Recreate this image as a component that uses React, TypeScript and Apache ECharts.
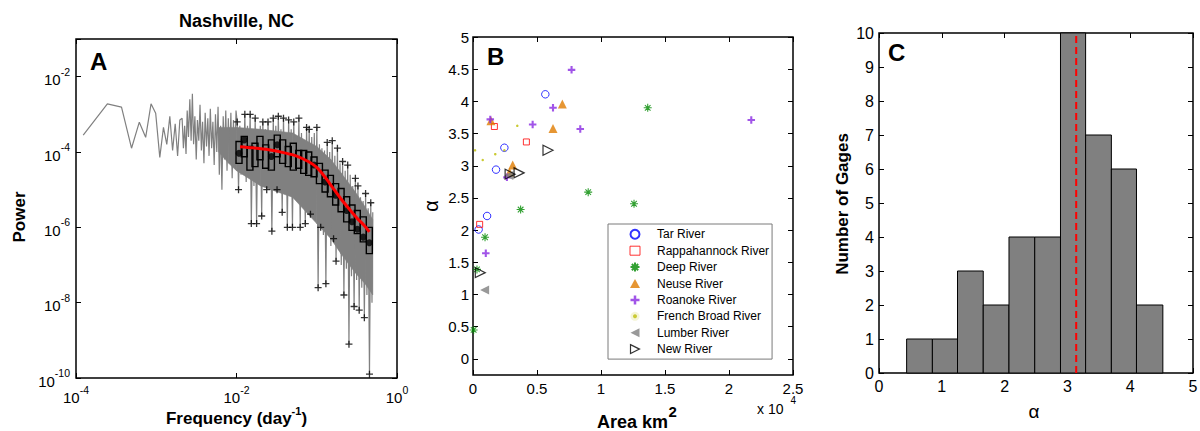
import React, { useEffect, useRef } from 'react';
import * as echarts from 'echarts';

const FONT = '"Liberation Sans", Arial, Helvetica, sans-serif';

// ---------------- Panel A: periodogram, Nashville, NC ----------------
const periodFreq = [
  1.23e-4, 2.46e-4, 3.69e-4, 4.92e-4, 6.15e-4, 7.38e-4, 8.61e-4, 9.84e-4, 1.107e-3, 1.23e-3,
  1.353e-3, 1.476e-3, 1.599e-3, 1.722e-3, 1.845e-3, 1.968e-3,
  0.0021, 0.00218, 0.00226, 0.00235, 0.00243, 0.00252, 0.00262, 0.00272, 0.00282, 0.00292,
  0.00303, 0.00315, 0.00326, 0.00339, 0.00351, 0.00365, 0.00378, 0.00393, 0.00407, 0.00423,
  0.00439, 0.00455, 0.00472, 0.0049, 0.00508, 0.00527, 0.00547, 0.00568, 0.00589, 0.00611,
  0.00634, 0.00658, 0.00683, 0.00708, 0.00735, 0.00762, 0.00791, 0.00821, 0.00851, 0.00883,
  0.00916, 0.00951, 0.00986,
  0.0102, 0.0106, 0.011, 0.0114, 0.0118, 0.0123, 0.0127, 0.0132, 0.0137, 0.0142,
  0.0148, 0.0153, 0.0159, 0.0165, 0.0171, 0.0178, 0.0184, 0.0191, 0.0198, 0.0206,
  0.0213, 0.0221, 0.023, 0.0238, 0.0247, 0.0257, 0.0266, 0.0276, 0.0287, 0.0297,
  0.0309, 0.032, 0.0332, 0.0345, 0.0358, 0.0371, 0.0385, 0.04, 0.0415, 0.043,
  0.0446, 0.0463, 0.048, 0.0498, 0.0517, 0.0537, 0.0557, 0.0578, 0.0599, 0.0622,
  0.0645, 0.0669, 0.0694, 0.072, 0.0747, 0.0775, 0.0805, 0.0835, 0.0866, 0.0898,
  0.0932, 0.0967, 0.1003, 0.104, 0.108, 0.112, 0.116, 0.121, 0.125, 0.13,
  0.135, 0.14, 0.145, 0.15, 0.156, 0.162, 0.168, 0.174, 0.181, 0.188,
  0.195, 0.202, 0.21, 0.218, 0.226, 0.234, 0.243, 0.252, 0.261, 0.271,
  0.281, 0.292, 0.303, 0.314, 0.326, 0.338, 0.351, 0.364, 0.378, 0.392,
  0.406, 0.422, 0.437, 0.454, 0.471, 0.488, 0.499,
];
const periodPower = [
  2.8e-4, 1.9e-3, 1.55e-3, 1.26e-4, 6.2e-4, 2.45e-4, 1.9e-3, 1.07e-3, 7.2e-5, 4.5e-4,
  1.6e-4, 8.9e-4, 1.1e-4, 5.6e-4, 7.9e-5, 7.1e-4,
  7.9e-4, 1.26e-4, 5.0e-4, 8.9e-5, 1.26e-3, 2.5e-4, 2.5e-3, 2.0e-4, 3.5e-3, 1.6e-4,
  8.9e-4, 6.3e-5, 7.1e-4, 2.0e-4, 1.8e-3, 1.1e-4, 6.3e-4, 5.0e-5, 1.1e-3, 1.4e-4,
  7.9e-4, 7.9e-5, 1.4e-3, 1.26e-4, 6.3e-4, 4.5e-5, 1.0e-3, 1.0e-4, 1.6e-3, 2.5e-5,
  5.0e-4, 1.0e-5, 8.9e-4, 6.3e-5, 1.26e-3, 3.2e-5, 7.9e-4, 5.0e-5, 1.1e-3, 2.0e-5,
  7.1e-4, 4.0e-5, 1.26e-3,
  6.3e-4, 1.0e-5, 5.0e-4, 2.5e-5, 3.2e-4, 4.0e-5, 1.0e-3, 1.6e-5, 5.0e-4, 3.2e-5,
  1.0e-3, 1.26e-6, 4.0e-4, 1.26e-5, 7.9e-4, 1.26e-6, 3.2e-4, 2.0e-5, 5.0e-4, 2.0e-6,
  6.3e-4, 1.26e-5, 4.0e-4, 1.0e-5, 6.3e-4, 2.5e-5, 3.2e-4, 7.9e-7, 7.9e-4, 1.6e-5,
  5.0e-4, 1.0e-5, 8.9e-4, 2.0e-5, 4.0e-4, 2.5e-6, 7.9e-4, 1.26e-5, 3.2e-4, 1.0e-6,
  7.1e-4, 1.6e-5, 4.0e-4, 1.0e-6, 6.3e-4, 1.0e-5, 2.5e-4, 6.3e-6, 7.9e-4, 1.0e-6,
  3.2e-4, 7.9e-6, 2.0e-4, 1.26e-6, 4.5e-4, 5.0e-6, 4.0e-4, 2.24e-6, 2.5e-4, 4.0e-6,
  3.2e-4, 1.6e-6, 4.5e-4, 2.5e-8, 1.6e-4, 1.0e-6, 1.26e-4, 6.3e-7, 1.1e-4, 3.2e-8,
  1.8e-4, 7.9e-7, 1.0e-4, 3.2e-7, 2.0e-4, 5.0e-7, 7.9e-5, 1.26e-7, 1.26e-4, 2.5e-7,
  5.0e-5, 1.0e-7, 5.6e-5, 1.6e-8, 3.2e-5, 7.9e-8, 4.5e-5, 7.9e-10, 2.5e-5, 5.0e-8,
  1.26e-5, 7.9e-9, 2.0e-5, 4.0e-8, 1.26e-5, 6.3e-9, 6.3e-6, 2.5e-8, 5.0e-6, 4.0e-9,
  7.9e-6, 1.6e-8, 3.2e-6, 1.26e-10, 4.5e-6, 1.0e-8, 2.5e-6,
];
// dense core of the periodogram (where the gray lines overlap into a solid band)
const bandFreq = [0.006, 0.008, 0.01, 0.02, 0.05, 0.1, 0.15, 0.2, 0.3, 0.4, 0.499];
const bandUpper = [4.5e-4, 4.5e-4, 4.5e-4, 4.0e-4, 3.2e-4, 1.4e-4, 6.3e-5, 2.8e-5, 8.9e-6, 3.5e-6, 1.6e-6];
const bandLower = [1.0e-4, 5.0e-5, 3.2e-5, 1.26e-5, 6.3e-6, 1.26e-6, 5.0e-7, 2.0e-7, 6.3e-8, 3.2e-8, 1.6e-8];

const boxFreq = [
  0.01075, 0.0125, 0.0147, 0.017, 0.0196, 0.0231, 0.0272, 0.0322, 0.0376, 0.0442,
  0.051, 0.0596, 0.0688, 0.0794, 0.0925, 0.108, 0.127, 0.148, 0.172, 0.201,
  0.236, 0.275, 0.32, 0.38, 0.452,
];
const boxUpper = [
  1.9e-4, 2.6e-4, 1.4e-4, 1.7e-4, 2.6e-4, 1.55e-4, 2.1e-4, 2.8e-4, 2.1e-4, 1.4e-4,
  1.7e-4, 1.1e-4, 1.1e-4, 1.0e-4, 7.4e-5, 5.0e-5, 3.3e-5, 2.4e-5, 1.45e-5, 1.07e-5,
  6.5e-6, 3.9e-6, 2.8e-6, 1.9e-6, 1.0e-6,
];
const boxLower = [
  5.0e-5, 7.5e-5, 3.3e-5, 4.1e-5, 6.2e-5, 3.7e-5, 3.3e-5, 7.5e-5, 5.0e-5, 4.1e-5,
  3.3e-5, 3.7e-5, 2.7e-5, 2.4e-5, 2.2e-5, 1.45e-5, 8.7e-6, 6.5e-6, 3.9e-6, 2.6e-6,
  1.4e-6, 8.3e-7, 6.8e-7, 4.1e-7, 2.0e-7,
];
const medianFreq = [0.01075, 0.0125, 0.0272, 0.0322, 0.0925, 0.127, 0.172, 0.236, 0.275, 0.32, 0.38, 0.452];
const medianPower = [9.3e-5, 2.1e-4, 7.6e-5, 1.55e-4, 4.5e-5, 1.6e-5, 7.1e-6, 2.8e-6, 1.4e-6, 8.9e-7, 5.5e-7, 3.9e-7];
const upperOutFreq = [
  0.0102, 0.0127, 0.0148, 0.0171, 0.0213, 0.0247, 0.0287, 0.0332, 0.0385, 0.0446, 0.0517, 0.0599,
  0.0747, 0.0805, 0.1003, 0.135, 0.156, 0.181, 0.21, 0.243, 0.303, 0.326, 0.406, 0.471,
];
const upperOutPower = [
  6.3e-4, 1.0e-3, 1.0e-3, 7.9e-4, 6.3e-4, 6.3e-4, 7.9e-4, 8.9e-4, 7.9e-4, 7.1e-4, 6.3e-4, 7.9e-4,
  4.5e-4, 4.0e-4, 4.5e-4, 1.8e-4, 2.0e-4, 1.26e-4, 5.6e-5, 4.5e-5, 2.0e-5, 1.26e-5, 7.9e-6, 4.5e-6,
];
const lowerOutFreq = [
  0.0106, 0.0153, 0.0178, 0.0206, 0.0238, 0.0276, 0.032, 0.0371, 0.043, 0.0498, 0.0622, 0.072,
  0.0835, 0.104, 0.112, 0.13, 0.162, 0.174, 0.218, 0.252, 0.292, 0.338, 0.392, 0.454,
];
const lowerOutPower = [
  1.0e-5, 1.26e-6, 1.26e-6, 2.0e-6, 1.0e-5, 7.9e-7, 1.0e-5, 2.5e-6, 1.0e-6, 1.0e-6, 1.0e-6, 1.26e-6,
  2.24e-6, 2.5e-8, 1.0e-6, 3.2e-8, 5.0e-7, 1.26e-7, 1.6e-8, 7.9e-10, 7.9e-9, 6.3e-9, 4.0e-9, 1.26e-10,
];
const fitFreq = [0.01107, 0.01585, 0.02512, 0.03981, 0.05623, 0.07943, 0.1, 0.1259, 0.1585, 0.1995, 0.2512, 0.3162, 0.3981, 0.4519];
const fitPower = [1.38e-4, 1.29e-4, 1.15e-4, 9.5e-5, 7.8e-5, 5.5e-5, 3.9e-5, 2.2e-5, 1.12e-5, 5.75e-6, 3.16e-6, 1.78e-6, 1.07e-6, 7.6e-7];

// ---------------- Panel B: alpha vs drainage area (km^2) ----------------
const tarRiver = [[5650, 4.11], [2450, 3.28], [1800, 2.94], [1100, 2.22], [440, 2.01]];
const rappahannockRiver = [[1670, 3.61], [4170, 3.37], [520, 2.09]];
const deepRiver = [[13650, 3.9], [9000, 2.59], [12580, 2.41], [3720, 2.32], [940, 1.89], [310, 1.39], [50, 0.45]];
const neuseRiver = [[6980, 3.96], [6250, 3.58], [1400, 3.7], [3100, 3.01], [2850, 2.9]];
const roanokeRiver = [[7700, 4.49], [6250, 3.9], [1350, 3.72], [4660, 3.64], [8380, 3.57], [21740, 3.71], [2650, 2.82], [1000, 1.64]];
const frenchBroadRiver = [[160, 3.24], [760, 3.09], [1740, 3.18], [2450, 3.24], [3460, 3.62]];
const lumberRiver = [[910, 1.07], [2800, 2.85]];
const newRiver = [[5860, 3.24], [3600, 2.89], [2900, 2.87], [570, 1.34]];
const alphaTicks = [0, 0.5, 1, 1.5, 2, 2.5, 3, 3.5, 4, 4.5, 5];

// ---------------- Panel C: histogram of alpha ----------------
const binEdges = [0.44, 0.85, 1.25, 1.66, 2.07, 2.48, 2.89, 3.29, 3.7, 4.1, 4.52];
const binCounts = [1, 1, 3, 2, 4, 4, 10, 7, 6, 2];
const meanAlpha = 3.14;

const pair = (xs: number[], ys: number[]) => xs.map((x, i) => [x, ys[i]]);

const supRich = (base: number, sup: number) => ({
  b: { fontFamily: FONT, fontSize: base, color: '#000', verticalAlign: 'bottom', lineHeight: 21 },
  s: { fontFamily: FONT, fontSize: sup, color: '#000', verticalAlign: 'top', lineHeight: 10 },
});

const tick = { show: true, inside: true, length: 5, lineStyle: { color: '#000', width: 1 } };
const noLine = { show: false, onZero: false };
const noSplit = { show: false };

function logX(pos: 'bottom' | 'top') {
  return {
    gridIndex: 0, type: 'log', logBase: 10, min: 1e-4, max: 1, interval: 2, position: pos,
    axisLine: noLine, splitLine: noSplit, minorTick: { show: false }, axisTick: tick,
    axisLabel: pos === 'bottom'
      ? { show: true, margin: 6, formatter: (v: number) => `{b|10}{s|${Math.round(Math.log10(v))}}`, rich: supRich(15, 10.5) }
      : { show: false },
  };
}
function logY(pos: 'left' | 'right') {
  return {
    gridIndex: 0, type: 'log', logBase: 10, min: 1e-10, max: 1e-1, interval: 2, position: pos,
    axisLine: noLine, splitLine: noSplit, minorTick: { show: false }, axisTick: tick,
    axisLabel: pos === 'left'
      ? {
          show: true, margin: 6,
          formatter: (v: number) => {
            const e = Math.round(Math.log10(v));
            return e % 2 === 0 ? `{b|10}{s|${e}}` : '';
          },
          rich: supRich(15, 10.5),
        }
      : { show: false },
  };
}

const gridBase = { show: true, borderColor: '#000', borderWidth: 1.5, backgroundColor: 'transparent', containLabel: false, outerBoundsMode: 'none' };

const asteriskPath = 'path://M5,0V10M0,5H10M1.5,1.5L8.5,8.5M1.5,8.5L8.5,1.5';
const plusFilledPath = 'path://M3.6,0H6.4V3.6H10V6.4H6.4V10H3.6V6.4H0V3.6H3.6Z';
const outlierPath = 'path://M5,0V10M0,5H10';
const leftTriPath = 'path://M0,5L10,0L10,10Z';
const rightTriPath = 'path://M0,0L10,5L0,10Z';

function makeOption() {
  const scatterB = (name: string, data: number[][], symbol: string, size: number, itemStyle: any, rotate = 0) => ({
    name, type: 'scatter', xAxisIndex: 2, yAxisIndex: 2, data, symbol, symbolSize: size, symbolRotate: rotate,
    symbolKeepAspect: true, itemStyle, silent: true, z: 4,
  });
  const txt = (text: string, x: number, y: number, fontSize: number, extra: any = {}) => ({
    type: 'text', x, y, rotation: extra.rotation || 0,
    style: {
      text, fontFamily: FONT, fontSize, fontWeight: extra.bold ? 'bold' : 'normal', fill: '#000',
      align: extra.align || 'center', verticalAlign: 'middle',
    },
  });

  return {
    animation: false,
    backgroundColor: '#fff',
    textStyle: { fontFamily: FONT, color: '#000' },
    grid: [
      { ...gridBase, left: 76, top: 39, width: 321, height: 339 },
      { ...gridBase, left: 473, top: 37, width: 320, height: 338 },
      { ...gridBase, left: 879, top: 33, width: 314, height: 340 },
    ],
    xAxis: [
      logX('bottom'),
      logX('top'),
      {
        gridIndex: 1, type: 'value', min: 0, max: 25000, interval: 5000, position: 'bottom',
        axisLine: noLine, splitLine: noSplit, axisTick: tick,
        axisLabel: { margin: 6, fontSize: 15, color: '#000', fontFamily: FONT, formatter: (v: number) => String(v / 10000) },
      },
      { gridIndex: 1, type: 'value', min: 0, max: 25000, interval: 5000, position: 'top', axisLine: noLine, splitLine: noSplit, axisTick: tick, axisLabel: { show: false } },
      {
        gridIndex: 2, type: 'value', min: 0, max: 5, interval: 1, position: 'bottom',
        axisLine: noLine, splitLine: noSplit, axisTick: tick,
        axisLabel: { margin: 5, fontSize: 16, color: '#000', fontFamily: FONT },
      },
      { gridIndex: 2, type: 'value', min: 0, max: 5, interval: 1, position: 'top', axisLine: noLine, splitLine: noSplit, axisTick: tick, axisLabel: { show: false } },
    ],
    yAxis: [
      logY('left'),
      logY('right'),
      {
        gridIndex: 1, type: 'value', min: -0.25, max: 5, position: 'left',
        axisLine: noLine, splitLine: noSplit, axisTick: { ...tick, customValues: alphaTicks },
        axisLabel: { customValues: alphaTicks, margin: 4, fontSize: 15, color: '#000', fontFamily: FONT, formatter: (v: number) => String(v) },
      },
      {
        gridIndex: 1, type: 'value', min: -0.25, max: 5, position: 'right',
        axisLine: noLine, splitLine: noSplit, axisTick: { ...tick, customValues: alphaTicks }, axisLabel: { show: false },
      },
      {
        gridIndex: 2, type: 'value', min: 0, max: 10, interval: 1, position: 'left',
        axisLine: noLine, splitLine: noSplit, axisTick: tick,
        axisLabel: { margin: 5, fontSize: 16, color: '#000', fontFamily: FONT },
      },
      { gridIndex: 2, type: 'value', min: 0, max: 10, interval: 1, position: 'right', axisLine: noLine, splitLine: noSplit, axisTick: tick, axisLabel: { show: false } },
    ],
    legend: {
      show: true, orient: 'vertical', left: 608, top: 224,
      padding: [3.3, 3, 3, 20], itemWidth: 10, itemHeight: 9, itemGap: 2.4,
      symbolKeepAspect: true,
      backgroundColor: '#fff', borderColor: '#7a7a7a', borderWidth: 1, borderRadius: 0,
      selectedMode: false,
      textStyle: { fontFamily: FONT, fontSize: 12, color: '#000', lineHeight: 14, padding: [0, 0, 0, 12] },
      data: [
        'Tar River',
        { name: 'Rappahannock River', icon: 'rect', itemStyle: { color: 'transparent', borderColor: '#ff0000', borderWidth: 1 } },
        'Deep River',
        { name: 'Neuse River', icon: 'triangle' },
        'Roanoke River',
        { name: 'French Broad River', icon: 'circle', itemStyle: { color: '#bdbd00', borderColor: '#fff', borderWidth: 5 } },
        { name: 'Lumber River', icon: leftTriPath, itemStyle: { color: '#808080' } },
        { name: 'New River', icon: rightTriPath, itemStyle: { color: 'transparent', borderColor: '#000', borderWidth: 1.2 } },
      ],
    },
    series: [
      // ---- Panel A
      {
        name: 'Periodogram core', type: 'custom', xAxisIndex: 0, yAxisIndex: 0,
        data: bandFreq.slice(0, -1).map((f, i) => [f, bandLower[i], bandUpper[i], bandFreq[i + 1], bandLower[i + 1], bandUpper[i + 1]]),
        encode: { x: [0, 3], y: [1, 2, 4, 5] }, silent: true, z: 1,
        renderItem: (_p: any, api: any) => {
          const a = api.coord([api.value(0), api.value(2)]);
          const b = api.coord([api.value(3), api.value(5)]);
          const c = api.coord([api.value(3), api.value(4)]);
          const d = api.coord([api.value(0), api.value(1)]);
          return {
            type: 'polygon',
            shape: { points: [a, b, c, d] },
            style: { fill: '#808080', stroke: '#808080', lineWidth: 0.6 },
          };
        },
      },
      {
        name: 'Periodogram', type: 'line', xAxisIndex: 0, yAxisIndex: 0,
        data: pair(periodFreq, periodPower), showSymbol: false, symbol: 'none',
        lineStyle: { color: '#808080', width: 1.2 }, silent: true, z: 2,
      },
      {
        name: 'Boxes', type: 'custom', xAxisIndex: 0, yAxisIndex: 0,
        data: boxFreq.map((f, i) => [f, boxLower[i], boxUpper[i]]),
        encode: { x: 0, y: [1, 2] }, silent: true, z: 3,
        renderItem: (_p: any, api: any) => {
          const top = api.coord([api.value(0), api.value(2)]);
          const bot = api.coord([api.value(0), api.value(1)]);
          return {
            type: 'rect',
            shape: { x: top[0] - 3, y: top[1], width: 6, height: bot[1] - top[1] },
            style: { fill: 'none', stroke: '#000', lineWidth: 1.4 },
          };
        },
      },
      {
        name: 'Upper outliers', type: 'scatter', xAxisIndex: 0, yAxisIndex: 0,
        data: pair(upperOutFreq, upperOutPower), symbol: outlierPath, symbolSize: 7,
        itemStyle: { color: 'transparent', borderColor: '#000', borderWidth: 1.3 }, silent: true, z: 4,
      },
      {
        name: 'Lower outliers', type: 'scatter', xAxisIndex: 0, yAxisIndex: 0,
        data: pair(lowerOutFreq, lowerOutPower), symbol: outlierPath, symbolSize: 7,
        itemStyle: { color: 'transparent', borderColor: '#000', borderWidth: 1.3 }, silent: true, z: 4,
      },
      {
        name: 'Medians', type: 'scatter', xAxisIndex: 0, yAxisIndex: 0,
        data: pair(medianFreq, medianPower), symbol: 'circle', symbolSize: 7,
        itemStyle: { color: '#000' }, silent: true, z: 4,
      },
      {
        name: 'Fit', type: 'line', xAxisIndex: 0, yAxisIndex: 0,
        data: pair(fitFreq, fitPower), showSymbol: false, symbol: 'none', smooth: 0.3,
        lineStyle: { color: '#ff0000', width: 3 }, silent: true, z: 5,
      },
      // ---- Panel B
      scatterB('Tar River', tarRiver, 'circle', 7.5, { color: 'transparent', borderColor: '#0000ff', borderWidth: 1 }),
      scatterB('Rappahannock River', rappahannockRiver, 'rect', 6, { color: 'transparent', borderColor: '#ff0000', borderWidth: 1 }),
      scatterB('Deep River', deepRiver, asteriskPath, 8, { color: 'transparent', borderColor: '#008a00', borderWidth: 1.1 }),
      scatterB('Neuse River', neuseRiver, 'triangle', 9, { color: '#e07c00' }),
      scatterB('Roanoke River', roanokeRiver, plusFilledPath, 7.5, { color: '#8a2be2' }),
      scatterB('French Broad River', frenchBroadRiver, 'circle', 2.5, { color: '#bdbd00' }),
      scatterB('Lumber River', lumberRiver, 'triangle', 9, { color: '#808080' }, 90),
      scatterB('New River', newRiver, 'triangle', 10, { color: 'transparent', borderColor: '#000', borderWidth: 1.2 }, -90),
      // ---- Panel C
      {
        name: 'Histogram', type: 'custom', xAxisIndex: 4, yAxisIndex: 4,
        data: binCounts.map((c, i) => [binEdges[i], binEdges[i + 1], c]),
        encode: { x: [0, 1], y: 2 }, silent: true, z: 2,
        renderItem: (_p: any, api: any) => {
          const p0 = api.coord([api.value(0), api.value(2)]);
          const p1 = api.coord([api.value(1), 0]);
          return {
            type: 'rect',
            shape: { x: p0[0], y: p0[1], width: p1[0] - p0[0], height: p1[1] - p0[1] },
            style: { fill: '#808080', stroke: '#000', lineWidth: 1 },
          };
        },
      },
      {
        name: 'Mean alpha', type: 'line', xAxisIndex: 4, yAxisIndex: 4,
        data: [[meanAlpha, 0], [meanAlpha, 10]], showSymbol: false, symbol: 'none',
        lineStyle: { color: '#ff0000', width: 2, type: [7, 4] }, silent: true, z: 5,
      },
    ],
    graphic: [
      txt('Nashville, NC', 236.5, 21, 18, { bold: true }),
      txt('A', 90, 61.4, 24, { bold: true, align: 'left' }),
      txt('B', 487, 56.4, 24, { bold: true, align: 'left' }),
      txt('C', 888, 52.4, 24, { bold: true, align: 'left' }),
      txt('Power', 19.5, 217, 17, { bold: true, rotation: Math.PI / 2 }),
      {
        type: 'text', x: 236.5, y: 416,
        style: {
          text: '{t|Frequency (day}{s|-1}{t|)}', align: 'center', verticalAlign: 'middle',
          rich: {
            t: { fontFamily: FONT, fontSize: 17, fontWeight: 'bold', fill: '#000', verticalAlign: 'bottom', lineHeight: 22 },
            s: { fontFamily: FONT, fontSize: 11, fontWeight: 'bold', fill: '#000', verticalAlign: 'top', lineHeight: 10 },
          },
        },
      },
      txt('α', 431, 206, 20, { rotation: Math.PI / 2 }),
      txt('Area km', 668, 422, 18, { bold: true, align: 'right' }),
      txt('2', 668.5, 411.5, 15, { bold: true, align: 'left' }),
      txt('x 10', 757, 408.5, 14, { align: 'left' }),
      txt('4', 790.5, 400.5, 10, { align: 'left' }),
      txt('Number of Gages', 842, 204, 17, { bold: true, rotation: Math.PI / 2 }),
      txt('α', 1034, 411, 19),
    ],
  };
}

export default function App() {
  const ref = useRef<HTMLDivElement>(null);
  useEffect(() => {
    const chart = echarts.init(ref.current as HTMLDivElement, undefined, { renderer: 'svg', width: 1200, height: 431 });
    chart.setOption(makeOption() as any);
    return () => chart.dispose();
  }, []);
  return <div ref={ref} style={{ position: 'fixed', left: 0, top: 0, width: 1200, height: 431, background: '#fff' }} />;
}
